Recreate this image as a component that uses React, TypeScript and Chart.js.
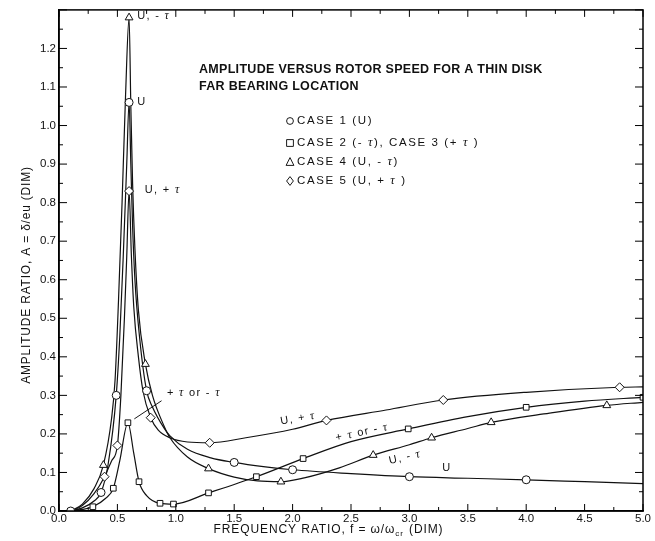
import React, { useEffect, useRef } from "react";
import { Chart, registerables } from "chart.js";
Chart.register(...registerables);

// ---- Data ----
const xTickValues = [0, 0.5, 1.0, 1.5, 2.0, 2.5, 3.0, 3.5, 4.0, 4.5, 5.0];
const yTickValues = [0, 0.1, 0.2, 0.3, 0.4, 0.5, 0.6, 0.7, 0.8, 0.9, 1.0, 1.1, 1.2];

// Case 1 (U) — circles
const case1CurveX = [0.1, 0.2, 0.3, 0.36, 0.42, 0.49, 0.52, 0.55, 0.58, 0.6, 0.615, 0.63, 0.65, 0.69, 0.75, 0.8, 0.9, 0.95, 1.1, 1.3, 1.5, 1.75, 2.0, 2.5, 3.0, 3.5, 4.0, 4.5, 5.0];
const case1CurveY = [0, 0.008, 0.026, 0.048, 0.12, 0.3, 0.45, 0.66, 0.9, 1.06, 0.9, 0.74, 0.6, 0.45, 0.312, 0.27, 0.215, 0.195, 0.16, 0.138, 0.126, 0.115, 0.107, 0.097, 0.089, 0.085, 0.081, 0.076, 0.071];
const case1MarkX = [0.1, 0.36, 0.49, 0.6, 0.75, 1.5, 2.0, 3.0, 4.0];
const case1MarkY = [0, 0.048, 0.3, 1.06, 0.312, 0.126, 0.107, 0.089, 0.081];

// Case 2 (-tau), Case 3 (+tau) — squares
const case2CurveX = [0.1, 0.2, 0.29, 0.4, 0.465, 0.52, 0.59, 0.64, 0.685, 0.75, 0.865, 0.98, 1.28, 1.69, 2.09, 2.5, 2.99, 3.5, 4.0, 4.5, 5.0];
const case2CurveY = [0, 0.004, 0.011, 0.033, 0.059, 0.13, 0.229, 0.15, 0.076, 0.04, 0.02, 0.018, 0.047, 0.089, 0.136, 0.18, 0.213, 0.245, 0.269, 0.285, 0.295];
const case2MarkX = [0.29, 0.465, 0.59, 0.685, 0.865, 0.98, 1.28, 1.69, 2.09, 2.99, 4.0, 5.0];
const case2MarkY = [0.011, 0.059, 0.229, 0.076, 0.02, 0.018, 0.047, 0.089, 0.136, 0.213, 0.269, 0.295];

// Case 4 (U, -tau) — triangles
const case4CurveX = [0.1, 0.2, 0.3, 0.38, 0.45, 0.48, 0.51, 0.54, 0.57, 0.6, 0.615, 0.63, 0.65, 0.68, 0.74, 0.8, 0.9, 0.95, 1.1, 1.28, 1.5, 1.7, 1.9, 2.1, 2.4, 2.69, 3.0, 3.19, 3.5, 3.7, 4.2, 4.69, 5.0];
const case4CurveY = [0, 0.018, 0.058, 0.119, 0.24, 0.34, 0.55, 0.8, 1.08, 1.28, 1.05, 0.85, 0.68, 0.52, 0.381, 0.3, 0.22, 0.19, 0.14, 0.11, 0.088, 0.078, 0.076, 0.086, 0.112, 0.145, 0.172, 0.19, 0.214, 0.23, 0.254, 0.274, 0.282];
const case4MarkX = [0.38, 0.6, 0.74, 1.28, 1.9, 2.69, 3.19, 3.7, 4.69];
const case4MarkY = [0.119, 1.28, 0.381, 0.11, 0.076, 0.145, 0.19, 0.23, 0.274];

// Case 5 (U, +tau) — diamonds
const case5CurveX = [0.1, 0.2, 0.3, 0.39, 0.45, 0.5, 0.53, 0.56, 0.58, 0.6, 0.62, 0.64, 0.68, 0.72, 0.785, 0.85, 0.95, 1.1, 1.29, 1.6, 2.0, 2.29, 2.8, 3.29, 4.0, 4.8, 5.0];
const case5CurveY = [0, 0.014, 0.045, 0.089, 0.13, 0.17, 0.3, 0.5, 0.66, 0.83, 0.66, 0.53, 0.4, 0.31, 0.242, 0.21, 0.19, 0.179, 0.177, 0.19, 0.212, 0.235, 0.262, 0.288, 0.308, 0.321, 0.322];
const case5MarkX = [0.39, 0.5, 0.6, 0.785, 1.29, 2.29, 3.29, 4.8];
const case5MarkY = [0.089, 0.17, 0.83, 0.242, 0.177, 0.235, 0.288, 0.321];

const titleLines = ["AMPLITUDE VERSUS ROTOR SPEED FOR A THIN DISK", "FAR BEARING LOCATION"];
const legendLabels = ["CASE 1 (U)", "CASE 2 (- τ), CASE 3 (+ τ )", "CASE 4 (U, - τ)", "CASE 5 (U, + τ )"];
const legendSymbols = ["circle", "rect", "triangle", "rectRot"];

// curve annotations: [text, x, y, angleDeg, align]
const curveLabels: [string, number, number, number, string][] = [
  ["U, - τ", 0.67, 1.285, 0, "left"],
  ["U", 0.67, 1.06, 0, "left"],
  ["U, + τ", 0.735, 0.834, 0, "left"],
  ["+ τ or - τ", 0.925, 0.307, 0, "left"],
  ["U, + τ", 2.046, 0.24, -10, "center"],
  ["+ τ or - τ", 2.594, 0.204, -12, "center"],
  ["U, - τ", 2.962, 0.139, -13, "center"],
  ["U", 3.32, 0.111, 0, "center"],
];
const leaderLine = [[0.878, 0.286], [0.645, 0.239]];

const SANS = '"Liberation Sans", Arial, Helvetica, sans-serif';

function toPts(xs: number[], ys: number[]) {
  return xs.map((x, i) => ({ x, y: ys[i] }));
}

function setSpacing(ctx: any, px: number) {
  if ("letterSpacing" in ctx) ctx.letterSpacing = px + "px";
}

function drawRich(ctx: CanvasRenderingContext2D, text: string, x: number, y: number, size: number, align: string, spacing: number) {
  const parts = text.split(/(τ)/).filter((p) => p.length > 0);
  const fN = `${size}px ${SANS}`;
  const fI = `italic ${size + 1}px "Liberation Serif", serif`;
  setSpacing(ctx, spacing);
  let w = 0;
  for (const p of parts) {
    ctx.font = p === "τ" ? fI : fN;
    w += ctx.measureText(p).width;
  }
  let cx = align === "center" ? x - w / 2 : x;
  ctx.textAlign = "left";
  ctx.textBaseline = "middle";
  for (const p of parts) {
    ctx.font = p === "τ" ? fI : fN;
    ctx.fillText(p, cx, y);
    cx += ctx.measureText(p).width;
  }
  setSpacing(ctx, 0);
}

function drawSymbol(ctx: CanvasRenderingContext2D, kind: string, x: number, y: number, r: number) {
  ctx.beginPath();
  if (kind === "circle") ctx.arc(x, y, r, 0, Math.PI * 2);
  else if (kind === "rect") ctx.rect(x - r, y - r, 2 * r, 2 * r);
  else if (kind === "triangle") {
    ctx.moveTo(x, y - r - 1);
    ctx.lineTo(x + r + 0.5, y + r);
    ctx.lineTo(x - r - 0.5, y + r);
    ctx.closePath();
  } else {
    ctx.moveTo(x, y - r - 1);
    ctx.lineTo(x + r, y);
    ctx.lineTo(x, y + r + 1);
    ctx.lineTo(x - r, y);
    ctx.closePath();
  }
  ctx.fillStyle = "#fff";
  ctx.fill();
  ctx.stroke();
}

const overlay = {
  id: "overlay",
  afterDraw(chart: any) {
    const { ctx, chartArea: a } = chart;
    const xs = chart.scales.x;
    const ys = chart.scales.y;
    ctx.save();
    ctx.strokeStyle = "#000";
    ctx.fillStyle = "#111";
    // frame
    ctx.lineWidth = 1.5;
    ctx.strokeRect(a.left, a.top, a.right - a.left, a.bottom - a.top);
    // inward ticks
    ctx.lineWidth = 1;
    ctx.beginPath();
    for (let i = 0; i <= 20; i++) {
      const v = i * 0.25;
      const px = xs.getPixelForValue(v);
      const len = i % 2 === 0 ? 7 : 4;
      ctx.moveTo(px, a.bottom);
      ctx.lineTo(px, a.bottom - len);
      ctx.moveTo(px, a.top);
      ctx.lineTo(px, a.top + len);
    }
    for (let i = 0; i <= 26; i++) {
      const v = i * 0.05;
      const py = ys.getPixelForValue(v);
      const len = i % 2 === 0 ? 8 : 4;
      ctx.moveTo(a.left, py);
      ctx.lineTo(a.left + len, py);
      ctx.moveTo(a.right, py);
      ctx.lineTo(a.right - len, py);
    }
    ctx.stroke();

    // title
    ctx.fillStyle = "#111";
    ctx.font = `bold 12.5px ${SANS}`;
    setSpacing(ctx, 0.3);
    ctx.textAlign = "left";
    ctx.textBaseline = "middle";
    ctx.fillText(titleLines[0], 199, 70);
    ctx.fillText(titleLines[1], 199, 87);
    setSpacing(ctx, 0);

    // legend
    const legY = [121, 143, 162, 181];
    ctx.lineWidth = 0.9;
    legendLabels.forEach((t, i) => {
      ctx.strokeStyle = "#000";
      drawSymbol(ctx, legendSymbols[i], 290, legY[i], 3.4);
      ctx.fillStyle = "#111";
      drawRich(ctx, t, 297, legY[i], 11.5, "left", 1.6);
    });

    // curve labels
    ctx.fillStyle = "#111";
    curveLabels.forEach(([t, vx, vy, ang, al]) => {
      const px = xs.getPixelForValue(vx);
      const py = ys.getPixelForValue(vy);
      ctx.save();
      ctx.translate(px, py);
      ctx.rotate((ang * Math.PI) / 180);
      drawRich(ctx, t, 0, 0, 11, al, 1.3);
      ctx.restore();
    });
    ctx.beginPath();
    ctx.lineWidth = 0.9;
    ctx.moveTo(xs.getPixelForValue(leaderLine[0][0]), ys.getPixelForValue(leaderLine[0][1]));
    ctx.lineTo(xs.getPixelForValue(leaderLine[1][0]), ys.getPixelForValue(leaderLine[1][1]));
    ctx.stroke();

    // x axis title
    ctx.fillStyle = "#111";
    const xt1 = "FREQUENCY RATIO, f = ω/ω";
    const xt2 = "cr";
    const xt3 = " (DIM)";
    setSpacing(ctx, 0.9);
    ctx.font = `12px ${SANS}`;
    const w1 = ctx.measureText(xt1).width;
    const w3 = ctx.measureText(xt3).width;
    ctx.font = `8px ${SANS}`;
    const w2 = ctx.measureText(xt2).width;
    let sx = 328 - (w1 + w2 + w3) / 2;
    ctx.textAlign = "left";
    ctx.textBaseline = "middle";
    ctx.font = `12px ${SANS}`;
    ctx.fillText(xt1, sx, 530);
    sx += w1;
    ctx.font = `8px ${SANS}`;
    ctx.fillText(xt2, sx, 534);
    sx += w2 + 1;
    ctx.font = `12px ${SANS}`;
    ctx.fillText(xt3, sx, 530);

    // y axis title
    ctx.save();
    ctx.translate(27, 275);
    ctx.rotate(-Math.PI / 2);
    ctx.font = `12px ${SANS}`;
    setSpacing(ctx, 0.8);
    ctx.textAlign = "center";
    ctx.fillText("AMPLITUDE RATIO, A = δ/eu (DIM)", 0, 0);
    setSpacing(ctx, 0);
    ctx.restore();

    ctx.restore();
  },
};

export default function App() {
  const ref = useRef<HTMLCanvasElement | null>(null);
  useEffect(() => {
    document.body.style.margin = "0";
    const curveDs = (xs: number[], ys: number[]) => ({
      type: "line",
      data: toPts(xs, ys),
      showLine: true,
      borderColor: "#111",
      borderWidth: 1.2,
      pointRadius: 0,
      cubicInterpolationMode: "monotone",
      fill: false,
      order: 2,
    });
    const markDs = (xs: number[], ys: number[], style: string, r: number) => ({
      type: "scatter",
      data: toPts(xs, ys),
      showLine: false,
      pointStyle: style,
      pointRadius: r,
      pointBorderWidth: 1,
      pointBackgroundColor: "#fff",
      pointBorderColor: "#111",
      order: 1,
    });
    const chart = new Chart(ref.current as HTMLCanvasElement, {
      type: "scatter",
      data: {
        datasets: [
          curveDs(case1CurveX, case1CurveY),
          curveDs(case2CurveX, case2CurveY),
          curveDs(case4CurveX, case4CurveY),
          curveDs(case5CurveX, case5CurveY),
          markDs(case1MarkX, case1MarkY, "circle", 4),
          markDs(case2MarkX, case2MarkY, "rect", 4),
          markDs(case4MarkX, case4MarkY, "triangle", 4.5),
          markDs(case5MarkX, case5MarkY, "rectRot", 4.5),
        ] as any,
      },
      options: {
        animation: false,
        responsive: false,
        maintainAspectRatio: false,
        layout: { padding: { top: 7, right: 12, left: 0, bottom: 0 } },
        plugins: { legend: { display: false }, tooltip: { enabled: false } },
        scales: {
          x: {
            type: "linear",
            min: 0,
            max: 5,
            grid: { display: false, drawTicks: false },
            border: { display: true, color: "#000", width: 1.5 },
            afterBuildTicks: (s: any) => {
              s.ticks = xTickValues.map((v) => ({ value: v }));
            },
            afterFit: (s: any) => {
              s.height = 30;
            },
            ticks: {
              padding: 1,
              color: "#111",
              font: { family: SANS, size: 11.5 },
              callback: (v: any) => Number(v).toFixed(1),
              maxRotation: 0,
            },
          },
          y: {
            type: "linear",
            min: 0,
            max: 1.3,
            grid: { display: false, drawTicks: false },
            border: { display: true, color: "#000", width: 1.5 },
            afterBuildTicks: (s: any) => {
              s.ticks = yTickValues.map((v) => ({ value: v }));
            },
            afterFit: (s: any) => {
              s.width = 59;
            },
            ticks: {
              padding: 3,
              color: "#111",
              font: { family: SANS, size: 11.5 },
              callback: (v: any) => Number(v).toFixed(1),
            },
          },
        },
      },
      plugins: [overlay],
    } as any);
    return () => chart.destroy();
  }, []);
  return (
    <div style={{ position: "absolute", left: 0, top: 0, width: 655, height: 541, background: "#fff" }}>
      <canvas ref={ref} width={655} height={541} style={{ width: 655, height: 541 }} />
    </div>
  );
}
